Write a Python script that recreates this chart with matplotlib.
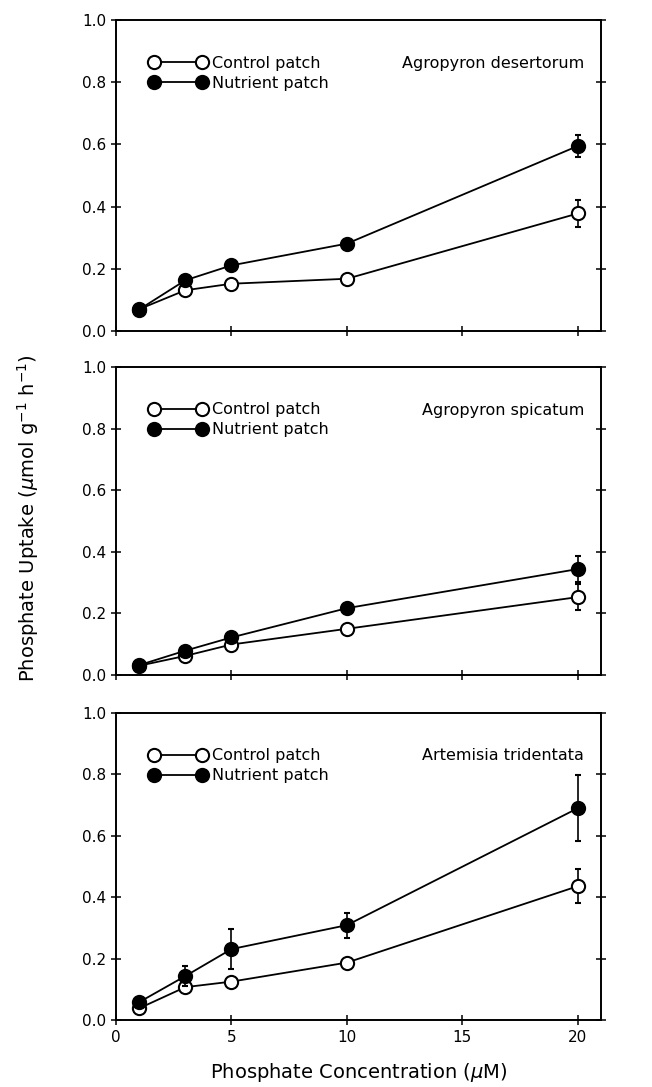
import matplotlib
matplotlib.use("Agg")
import matplotlib.pyplot as plt
from matplotlib.lines import Line2D

plt.rcParams['font.family'] = ['DejaVu Sans']

conc = [1, 3, 5, 10, 20]
species = ["Agropyron desertorum", "Agropyron spicatum", "Artemisia tridentata"]

ctrl_desert = [0.07, 0.131, 0.152, 0.168, 0.378]
ctrl_desert_err = [0, 0, 0, 0, 0.043]
nutr_desert = [0.069, 0.163, 0.211, 0.281, 0.595]
nutr_desert_err = [0, 0, 0, 0, 0.036]

ctrl_spic = [0.03, 0.062, 0.099, 0.150, 0.253]
ctrl_spic_err = [0, 0, 0, 0, 0.042]
nutr_spic = [0.032, 0.079, 0.122, 0.217, 0.344]
nutr_spic_err = [0, 0, 0, 0, 0.043]

ctrl_art = [0.038, 0.107, 0.125, 0.187, 0.436]
ctrl_art_err = [0, 0, 0, 0, 0.056]
nutr_art = [0.058, 0.143, 0.231, 0.309, 0.690]
nutr_art_err = [0, 0.033, 0.064, 0.041, 0.108]

panels = [
    (ctrl_desert, ctrl_desert_err, nutr_desert, nutr_desert_err),
    (ctrl_spic, ctrl_spic_err, nutr_spic, nutr_spic_err),
    (ctrl_art, ctrl_art_err, nutr_art, nutr_art_err),
]

fig = plt.figure(figsize=(6.52, 10.87), dpi=100)
W, H = 652, 1087
left, right = 116, 601
tops = [20, 367, 713]
bottoms = [331, 675, 1020]

for i, (c, ce, n, ne) in enumerate(panels):
    ax = fig.add_axes([left / W, 1 - bottoms[i] / H, (right - left) / W, (bottoms[i] - tops[i]) / H])
    ax.errorbar(conc, c, yerr=ce, color='black', lw=1.3, marker='o', ms=9.5,
                mfc='white', mec='black', mew=1.5, capsize=2.5, elinewidth=1.2, zorder=3)
    ax.errorbar(conc, n, yerr=ne, color='black', lw=1.3, marker='o', ms=9.5,
                mfc='black', mec='black', mew=1.5, capsize=2.5, elinewidth=1.2, zorder=4)
    ax.set_xlim(0, 21)
    ax.set_ylim(0, 1.0)
    ax.set_yticks([0.0, 0.2, 0.4, 0.6, 0.8, 1.0])
    ax.set_yticklabels([f"{v:.1f}" for v in [0.0, 0.2, 0.4, 0.6, 0.8, 1.0]])
    ax.set_xticks([0, 5, 10, 15, 20])
    ax.tick_params(direction='inout', length=7, width=1.1, labelsize=11,
                   right=True, top=False)
    if i < 2:
        ax.tick_params(labelbottom=False)
    for s in ax.spines.values():
        s.set_linewidth(1.4)
    h1 = Line2D([], [], color='black', lw=1.3, marker='o', ms=9.5, mfc='white', mec='black', mew=1.5)
    h2 = Line2D([], [], color='black', lw=1.3, marker='o', ms=9.5, mfc='black', mec='black', mew=1.5)
    ax.legend([h1, h2], ["Control patch", "Nutrient patch"], numpoints=2, frameon=False,
              loc='upper left', bbox_to_anchor=(0.069, 0.885), handlelength=3.6,
              handletextpad=0.3, labelspacing=0.3, fontsize=11.5, borderpad=0, borderaxespad=0)
    ax.text(0.965, 0.86, species[i], transform=ax.transAxes, ha='right', va='center', fontsize=11.5)
    if i == 2:
        ax.set_xlabel("Phosphate Concentration ($\\mu$M)", fontsize=14, labelpad=12)

fig.text(28 / W, 1 - 518 / H, "Phosphate Uptake ($\\mu$mol g$^{-1}$ h$^{-1}$)",
         rotation=90, ha='center', va='center', fontsize=14)

fig.savefig("out.png", dpi=100)
